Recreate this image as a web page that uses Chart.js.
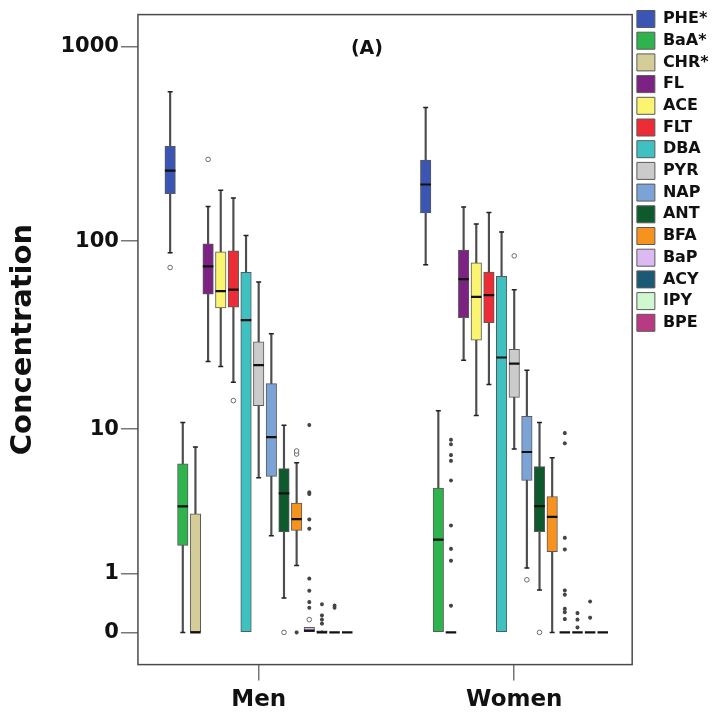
<!DOCTYPE html>
<html>
<head>
<meta charset="utf-8">
<script src="https://cdn.jsdelivr.net/npm/chart.js@4.4.1/dist/chart.umd.min.js"></script>
<style>
    html, body { margin: 0; padding: 0; background: #fff; }
</style>
</head>
<body>
<canvas id="chart" width="721" height="719"></canvas>
<script>
const compounds = ["PHE*", "BaA*", "CHR*", "FL", "ACE", "FLT", "DBA", "PYR", "NAP", "ANT", "BFA", "BaP", "ACY", "IPY", "BPE"];
const groups = ["Men", "Women"];
const yTicks = [0, 1, 10, 100, 1000];

// résumés à cinq valeurs, dans l'ordre des composés
const menLow  = [87, 0, 0, 23.4, 22, 18.1, 0, 5.2, 2.13, 0.5, 1.2, 0, 0, 0, 0];
const menQ1   = [176, 1.79, 0, 53, 45, 45.4, 0, 13.5, 5.3, 2.27, 2.33, 0, 0, 0, 0];
const menMed  = [231, 3.42, 0, 74, 55, 56, 38.8, 22.4, 9.0, 4.16, 2.8, 0.02, 0, 0, 0];
const menQ3   = [308, 6.3, 3.05, 97, 88, 89, 69, 29.8, 17.8, 5.9, 3.6, 0.06, 0.02, 0, 0];
const menHigh = [588, 10.9, 7.9, 151, 183, 167, 107, 61.3, 32.9, 10.5, 6.4, 0.06, 0.02, 0, 0];

const womenLow  = [75.4, 0, 0, 23.8, 11.9, 17.6, 0, 7.7, 1.14, 0.65, 0, 0, 0, 0, 0];
const womenQ1   = [140, 0, 0, 40, 30.4, 37.6, 0, 15, 5.0, 2.28, 1.59, 0, 0, 0, 0];
const womenMed  = [196, 1.99, 0, 63.5, 51.3, 52.5, 24.6, 22.8, 7.4, 3.44, 2.91, 0, 0, 0, 0];
const womenQ3   = [262, 4.49, 0, 90, 77.3, 69.2, 65.7, 27.2, 11.8, 6.07, 3.97, 0, 0, 0, 0];
const womenHigh = [488, 12.65, 0, 150, 122.6, 140.6, 111.6, 56, 21, 10.9, 6.85, 0, 0, 0, 0];

// valeurs aberrantes : [indice du composé, valeur]
const menMild = [[0, 73], [3, 264], [5, 14.4], [9, 0], [10, 7.2], [10, 7.5], [11, 0.163]];
const menExtreme = [[10, 0], [11, 10.55], [11, 4.22], [11, 4.12], [11, 2.79], [11, 2.4], [11, 0.886], [11, 0.635],
    [11, 0.43], [11, 0.337], [12, 0.394], [12, 0.222], [12, 0.163], [12, 0.11], [13, 0.373], [13, 0.337]];
const womenMild = [[7, 83.9], [8, 0.86], [9, 0]];
const womenExtreme = [[2, 8.7], [2, 8.2], [2, 7.1], [2, 6.57], [2, 5.0], [2, 2.53], [2, 1.68], [2, 1.33], [2, 0.37],
    [11, 9.5], [11, 8.3], [11, 2.05], [11, 1.66], [11, 0.64], [11, 0.56], [11, 0.32], [11, 0.27], [11, 0.17],
    [12, 0.256], [12, 0.163], [12, 0.06], [13, 0.44], [13, 0.19]];

const couleurs = ["#3b55b5", "#2fb34c", "#d5cd98", "#7b2282", "#fbf471", "#ec2d36", "#3fc1c2", "#cbcbcb",
    "#7ba3d6", "#0f5a2d", "#f6921e", "#ddb9f2", "#1b5a74", "#cff8d0", "#b93a83"];

const tr = v => Math.log10(v + 1);
const pas = 0.0495;
const xPos = (g, i) => g + (i - 7) * pas;

const resumes = [
    { low: menLow, q1: menQ1, med: menMed, q3: menQ3, high: menHigh, mild: menMild, extreme: menExtreme },
    { low: womenLow, q1: womenQ1, med: womenMed, q3: womenQ3, high: womenHigh, mild: womenMild, extreme: womenExtreme }
];

const boites = compounds.map((nom, i) => ({
    type: "bar",
    label: nom,
    data: resumes
        .map((s, g) => s.q3[i] > s.q1[i] ? { x: xPos(g, i), y: [tr(s.q1[i]), tr(s.q3[i])] } : null)
        .filter(Boolean),
    backgroundColor: couleurs[i],
    borderColor: "#5a5a5a",
    borderWidth: 1,
    borderSkipped: false,
    barThickness: 10.5,
    grouped: false,
    order: 2
}));

const moustaches = [];
const extremites = [];
const medianes = [];
const aberrantsO = [];
const aberrantsEtoile = [];

resumes.forEach((s, g) => {
    compounds.forEach((_, i) => {
        const x = xPos(g, i);
        if (s.high[i] > s.low[i]) moustaches.push({ x, y: [tr(s.low[i]), tr(s.high[i])] });
        if (s.high[i] > s.q3[i]) extremites.push({ x, y: tr(s.high[i]) });
        if (s.low[i] < s.q1[i]) extremites.push({ x, y: tr(s.low[i]) });
        medianes.push({ x, y: tr(s.med[i]) });
    });
    s.mild.forEach(([i, v]) => aberrantsO.push({ x: xPos(g, i), y: tr(v) }));
    s.extreme.forEach(([i, v]) => aberrantsEtoile.push({ x: xPos(g, i), y: tr(v) }));
});

const cadre = {
    id: "cadre",
    afterDatasetsDraw(chart) {
        const { ctx, chartArea: a } = chart;
        ctx.save();
        ctx.strokeStyle = "#4a4a4a";
        ctx.lineWidth = 1.5;
        ctx.strokeRect(a.left, a.top, a.right - a.left, a.bottom - a.top);
        ctx.font = "bold 19px 'DejaVu Sans'";
        ctx.fillStyle = "#111";
        ctx.textAlign = "center";
        ctx.textBaseline = "middle";
        ctx.fillText("(A)", a.left + 229, a.top + 34);
        ctx.restore();
    }
};

const policeAxe = { family: "'DejaVu Sans'", weight: "bold" };

new Chart(document.getElementById("chart"), {
    type: "bar",
    data: {
        datasets: [
            ...boites,
            {
                type: "bar",
                label: "moustaches",
                data: moustaches,
                backgroundColor: "#4d4d4d",
                borderWidth: 0,
                barThickness: 1.5,
                grouped: false,
                order: 3
            },
            {
                type: "scatter",
                label: "extremites",
                data: extremites,
                pointStyle: "line",
                pointRadius: 2.5,
                pointBorderWidth: 1.5,
                pointBorderColor: "#222",
                order: 1
            },
            {
                type: "scatter",
                label: "medianes",
                data: medianes,
                pointStyle: "line",
                pointRadius: 5.25,
                pointBorderWidth: 2.2,
                pointBorderColor: "#111",
                order: 1
            },
            {
                type: "scatter",
                label: "o",
                data: aberrantsO,
                pointStyle: "circle",
                pointRadius: 2.3,
                pointBorderWidth: 1,
                pointBorderColor: "#6a6a6a",
                pointBackgroundColor: "#fff",
                order: 0
            },
            {
                type: "scatter",
                label: "*",
                data: aberrantsEtoile,
                pointStyle: "star",
                pointRadius: 2,
                pointBorderWidth: 1.2,
                pointBorderColor: "#444",
                order: 0
            }
        ]
    },
    options: {
        responsive: false,
        animation: false,
        events: [],
        layout: { padding: { top: 5.8, right: 2.3, left: 0, bottom: 0 } },
        plugins: {
            title: { display: true, text: "", padding: 0, font: { size: 4.2, lineHeight: 1 } },
            tooltip: { enabled: false },
            legend: {
                position: "right",
                align: "start",
                labels: {
                    filter: item => item.datasetIndex < compounds.length,
                    boxWidth: 18,
                    boxHeight: 17,
                    padding: 4.7,
                    color: "#111",
                    font: { family: "'DejaVu Sans'", weight: "bold", size: 16 }
                }
            }
        },
        scales: {
            x: {
                type: "linear",
                min: -0.4725,
                max: 1.4616,
                offset: false,
                grid: { offset: false, drawOnChartArea: false, drawTicks: true, tickLength: 16, color: "#777", lineWidth: 1.5 },
                border: { display: false },
                afterBuildTicks: scale => { scale.ticks = groups.map((_, g) => ({ value: g })); },
                ticks: {
                    callback: (v, idx) => groups[idx],
                    padding: 5.4,
                    maxRotation: 0,
                    color: "#111",
                    font: { ...policeAxe, size: 23 }
                }
            },
            y: {
                type: "linear",
                min: -0.165,
                max: 3.165,
                grid: { drawOnChartArea: false, drawTicks: true, tickLength: 17, color: "#777", lineWidth: 1.5 },
                border: { display: false },
                afterBuildTicks: scale => { scale.ticks = yTicks.map(v => ({ value: tr(v) })); },
                ticks: {
                    callback: (v, idx) => yTicks[idx],
                    padding: 2,
                    color: "#111",
                    font: { ...policeAxe, size: 21 }
                },
                title: {
                    display: true,
                    text: "Concentration",
                    color: "#111",
                    padding: { top: 8.5, bottom: 21 },
                    font: { ...policeAxe, size: 29, lineHeight: 1 }
                }
            }
        }
    },
    plugins: [cadre]
});
</script>
</body>
</html>
